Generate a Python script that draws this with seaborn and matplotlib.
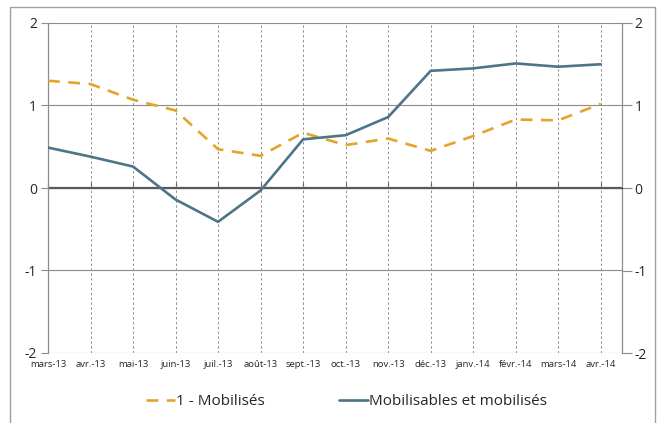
import numpy as np
import pandas as pd
import seaborn as sns
import matplotlib.pyplot as plt
from matplotlib.patches import Rectangle

months = ['mars-13', 'avr.-13', 'mai-13', 'juin-13', 'juil.-13', 'août-13', 'sept.-13',
          'oct.-13', 'nov.-13', 'déc.-13', 'janv.-14', 'févr.-14', 'mars-14', 'avr.-14']
mobilises = [1.30, 1.26, 1.07, 0.94, 0.47, 0.39, 0.67, 0.52, 0.60, 0.45, 0.63, 0.83, 0.82, 1.02]
mobilisables = [0.49, 0.38, 0.26, -0.14, -0.41, -0.03, 0.59, 0.64, 0.86, 1.42, 1.45, 1.51, 1.47, 1.50]
yticks = [-2, -1, 0, 1, 2]

sns.set_style('white')
plt.rcParams['font.family'] = ['Open Sans', 'DejaVu Sans']

df = pd.DataFrame({'mois': months, 'mob': mobilises, 'mobi': mobilisables})
xpos = np.arange(len(months))

fig = plt.figure(figsize=(6.6, 4.23), dpi=100)
ax = fig.add_axes([48 / 660, 1 - 353 / 423, (622 - 48) / 660, (353 - 23) / 423])

# grid
for y in yticks:
    if y == 0:
        ax.axhline(0, color='#5a5a5a', lw=1.6, zorder=2)
    else:
        ax.axhline(y, color='#8c8c8c', lw=0.8, zorder=1)
for x in xpos:
    ax.axvline(x, color='#8f8f8f', lw=0.7, ls=(0, (2.5, 2.5)), zorder=1)

sns.lineplot(x=xpos, y=df['mob'], ax=ax, color='#e3a42a', lw=1.9,
             dashes=False, label='1 - Mobilisés', zorder=3)
ax.lines[-1].set_dashes((4.5, 3.2))
sns.lineplot(x=xpos, y=df['mobi'], ax=ax, color='#4e7587', lw=1.9,
             label='Mobilisables et mobilisés', zorder=3)

ax.set_xlim(0, 13.5)
ax.set_ylim(-2, 2)
ax.set_xlabel('')
ax.set_ylabel('')
ax.set_xticks(xpos)
ax.set_xticklabels(months, fontsize=6.8)
ax.tick_params(axis='x', length=0, pad=5)
ax.set_yticks(yticks)
ax.set_yticklabels([str(v) for v in yticks], fontsize=10)
ax.tick_params(axis='y', direction='out', length=5, color='#8c8c8c', width=0.8, pad=3, left=True)
for s in ['top', 'bottom']:
    ax.spines[s].set_visible(False)
ax.spines['left'].set_color('#8c8c8c')
ax.spines['left'].set_linewidth(0.9)
ax.spines['right'].set_visible(False)

# right axis
ax_r = ax.secondary_yaxis('right')
ax_r.set_yticks(yticks)
ax_r.set_yticklabels([str(v) for v in yticks], fontsize=10)
ax_r.tick_params(direction='out', length=7, color='#8c8c8c', width=0.8, pad=2)
ax_r.spines['right'].set_color('#8c8c8c')
ax_r.spines['right'].set_linewidth(0.9)

# category ticks on zero line
ax_x = ax.secondary_xaxis(0.5)
ax_x.set_xticks(xpos)
ax_x.set_xticklabels([])
ax_x.tick_params(direction='out', length=4, color='#5a5a5a', width=0.8)
ax_x.spines['bottom'].set_visible(False)

ax.get_legend().remove()
h, l = ax.get_legend_handles_labels()
fig.legend(h, l, loc='center', bbox_to_anchor=(0.525, 0.05), ncol=2, frameon=False,
           fontsize=11, handlelength=1.9, handletextpad=0.1, columnspacing=4.8)

fig.patches.append(Rectangle((10 / 660, -0.05), 645 / 660, 1.05 - 7 / 423,
                             transform=fig.transFigure, fill=False,
                             edgecolor='#a0a0a0', lw=1))

fig.savefig('out.png', dpi=100)
